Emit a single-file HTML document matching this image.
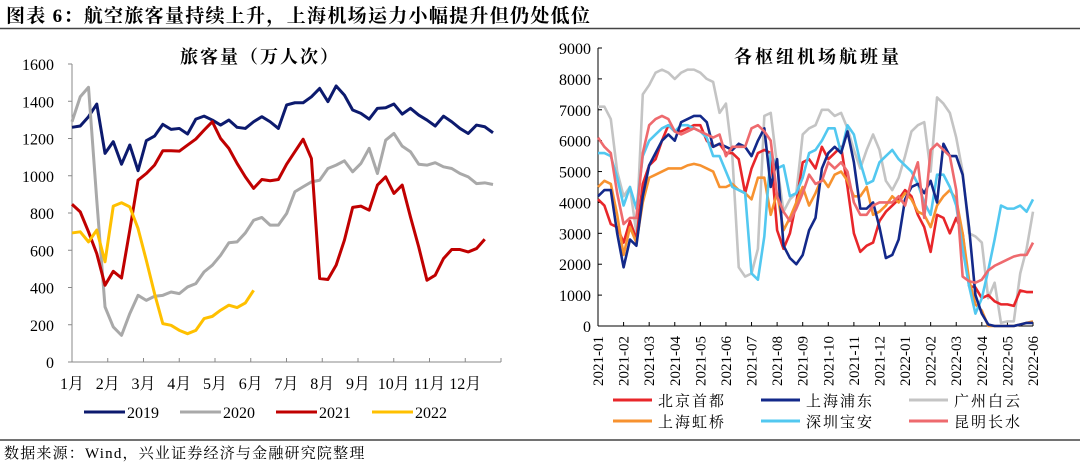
<!DOCTYPE html>
<html><head><meta charset="utf-8"><style>
body{margin:0;background:#fff;width:1080px;height:462px;overflow:hidden}
svg{display:block}
text{font-family:"Liberation Serif","Noto Serif CJK SC",serif;fill:#000}
</style></head><body>
<svg id="s" width="1080" height="462">
<text x="6" y="22" font-size="19" font-weight="bold" letter-spacing="1.3">图表 6：航空旅客量持续上升，上海机场运力小幅提升但仍处低位</text>
<line x1="0" y1="28.5" x2="1080" y2="28.5" stroke="#444" stroke-width="1.5"/>
<line x1="0" y1="440" x2="1080" y2="440" stroke="#444" stroke-width="1.5"/>
<text x="4" y="458" font-size="15" letter-spacing="1.2">数据来源：Wind，兴业证券经济与金融研究院整理</text>
<text x="260" y="63" font-size="18" font-weight="bold" letter-spacing="2" text-anchor="middle">旅客量（万人次）</text>
<text x="818" y="63" font-size="18" font-weight="bold" letter-spacing="3" text-anchor="middle">各枢纽机场航班量</text>
<g id="L"></g>
<g id="R"></g>
</svg>
<script>
const months=["1月","2月","3月","4月","5月","6月","7月","8月","9月","10月","11月","12月"];
const yTicksL=[0,200,400,600,800,1000,1200,1400,1600];
const years=["2019","2020","2021","2022"];
const s2019=[1260,1267,1317,1385,1120,1183,1062,1165,1027,1188,1213,1276,1249,1254,1224,1304,1320,1299,1272,1299,1260,1254,1290,1317,1290,1254,1380,1392,1392,1424,1469,1398,1482,1433,1353,1335,1304,1362,1365,1385,1331,1362,1326,1299,1267,1320,1290,1254,1227,1272,1263,1231];
const s2020=[1290,1424,1475,869,296,188,143,260,358,331,353,358,376,367,403,421,484,520,573,640,645,693,761,776,735,735,797,914,941,967,976,1039,1057,1080,1021,1066,1147,1012,1191,1227,1159,1129,1062,1057,1070,1048,1039,1012,994,958,962,953];
const s2021=[847,806,699,582,412,487,451,708,976,1012,1057,1134,1134,1132,1165,1197,1245,1290,1200,1147,1066,994,932,980,973,980,1062,1129,1196,1093,448,443,520,654,830,837,815,950,994,905,950,779,618,439,466,555,604,604,591,609,659];
const s2022=[693,699,645,708,538,837,855,833,717,546,367,206,197,170,152,170,233,245,278,305,292,317,385];

const monthTicksR=["2021-01","2021-02","2021-03","2021-04","2021-05","2021-06","2021-07","2021-08","2021-09","2021-10","2021-11","2021-12","2022-01","2022-02","2022-03","2022-04","2022-05","2022-06"];
const yTicksR=[0,1000,2000,3000,4000,5000,6000,7000,8000,9000];
const airports=["北京首都","上海浦东","广州白云","上海虹桥","深圳宝安","昆明长水"];
const beijing=[4100,3900,3300,3200,2700,3400,2800,4600,5200,5400,6000,6500,6300,6300,6400,6500,6500,6000,5800,5900,5600,5600,5400,4300,5100,5600,5700,5600,3100,2500,3000,4000,5300,5400,5100,5800,5400,5600,5800,4500,3000,2400,2600,2700,3400,3700,3900,4100,4400,4200,3600,3200,2400,3600,3500,3000,3500,3000,1300,1250,900,1000,800,700,700,650,1150,1100,1100];
const pudong=[4200,4400,4400,3000,1900,2800,2600,4200,5200,5600,6000,6200,6000,6600,6700,6800,6800,6600,5800,5900,5800,5700,5900,5800,5500,6000,6400,4500,5400,2600,2200,2000,2300,3100,3500,5100,5600,5800,5600,6300,5300,3800,3800,4000,3200,2200,2300,2800,4100,4500,4600,4300,4700,4000,5900,5500,5500,4900,3200,1000,400,50,0,0,0,0,50,100,100];
const baiyun=[7100,7100,6700,5000,4200,4500,3000,7500,7800,8200,8300,8200,8000,8200,8300,8300,8200,8000,7900,6900,7200,5500,1900,1600,1700,2500,6800,6900,5200,3700,4100,4300,6200,6400,6500,7000,7000,6800,6900,6400,5700,5100,5700,6200,5700,4700,4400,4800,5500,6300,6500,6600,5000,7400,7200,6900,6100,5000,3000,2900,2700,900,1400,100,150,150,1700,2500,3700];
const hongqiao=[4500,4700,4600,3600,2300,3200,2700,4000,4800,4900,5000,5100,5100,5100,5200,5250,5200,5100,5000,4500,4500,4600,4400,4300,4100,4800,4800,3600,4300,3100,3500,4000,4500,3900,4300,4800,4500,4900,5000,4700,4200,4200,4500,3600,3700,3900,4200,4000,4300,4100,3700,3600,3200,3900,4200,4400,4100,3000,1500,700,500,0,0,0,0,0,50,100,150];
const baoan=[5600,5600,5500,4800,3900,4500,3800,5500,6000,6200,6400,6500,6300,6500,6500,6400,6300,6100,5500,5500,5000,4500,4400,4300,1700,1500,2900,5600,5100,5200,4200,4300,4800,5600,5700,6000,6400,6400,5600,6500,6200,5300,4600,4700,5300,5500,5700,5400,5200,5000,4600,4000,3600,4900,4900,4500,3900,2500,1300,400,900,1800,2800,3900,3800,3800,3900,3700,4100];
const changshui=[6100,5800,5600,4300,3300,3500,3500,5600,6500,6700,6800,6700,6300,6200,6300,6400,6300,6200,6100,6200,5500,5800,5800,5800,6400,6500,6300,6000,4200,3700,3400,3800,4300,4900,4600,4700,5300,5100,5300,5000,4000,3600,3600,3900,4000,4000,4000,4200,3900,4700,5300,3500,5700,5900,5700,5500,4400,1600,1450,1400,1500,1800,1950,2050,2150,2250,2300,2300,2700];

const NS="http://www.w3.org/2000/svg";
function mk(p,tag,at,txt){const e=document.createElementNS(NS,tag);for(const k in at)e.setAttribute(k,at[k]);if(txt!==undefined)e.textContent=txt;p.appendChild(e);return e;}

// LEFT
const L=document.getElementById('L');
const lx0=72,lx1=501,ly0=362,ly1=64;
const lxs=i=>lx0+i*(493-72)/51;
const lys=v=>ly0-(v/1600)*(ly0-ly1);
const lmx=m=>lx0+m*(lx1-lx0)/12;
let a=mk(L,'line',{x1:lx0,y1:ly1,x2:lx0,y2:ly0,stroke:'#888','stroke-width':1});


a=mk(L,'line',{x1:lx0,y1:ly0,x2:lx1,y2:ly0,stroke:'#888','stroke-width':1});


yTicksL.forEach(v=>{
  mk(L,'line',{x1:lx0-4,x2:lx0,y1:lys(v),y2:lys(v),stroke:'#888'});
  const t=mk(L,'text',{x:54,y:lys(v)+6,'font-size':16,'text-anchor':'end'},v);
  
  
});
for(let m=0;m<=12;m++)mk(L,'line',{x1:lmx(m),x2:lmx(m),y1:ly0,y2:ly0-4,stroke:'#888'});
months.forEach((m,i)=>{
  const t=mk(L,'text',{x:lmx(i),y:389,'font-size':16,'text-anchor':'middle'},m);
  
  
});
const lcol=["#0c1a6e","#a9a9a9","#c00000","#ffc000"];
[s2019,s2020,s2021,s2022].forEach((s,k)=>{
  const p=mk(L,'polyline',{points:s.map((v,i)=>lxs(i)+','+lys(v)).join(' '),fill:'none',stroke:lcol[k],'stroke-width':3,'stroke-linejoin':'round'});
  
  
  const lx=84+k*96;
  const ll=mk(L,'line',{x1:lx,x2:lx+41,y1:412,y2:412,stroke:lcol[k],'stroke-width':3});
  
  
  const lt=mk(L,'text',{x:lx+43,y:418,'font-size':16},years[k]);
  
  
});

// RIGHT
const R=document.getElementById('R');
const rx0=598,rx1=1033,ry0=326,ry1=48;
const rxs=i=>rx0+i*(rx1-rx0)/68;
const rys=v=>ry0-(v/9000)*(ry0-ry1);
const rmx=m=>rx0+m*(rx1-rx0)/17;
a=mk(R,'line',{x1:rx0,y1:ry1,x2:rx0,y2:ry0,stroke:'#000','stroke-width':1});


a=mk(R,'line',{x1:rx0,y1:ry0,x2:rx1,y2:ry0,stroke:'#000','stroke-width':1});


yTicksR.forEach(v=>{
  mk(R,'line',{x1:rx0,x2:rx0+4,y1:rys(v),y2:rys(v),stroke:'#000'});
  const t=mk(R,'text',{x:591,y:rys(v)+6,'font-size':16,'text-anchor':'end'},v);
  
  
});
monthTicksR.forEach((m,i)=>{
  mk(R,'line',{x1:rmx(i),x2:rmx(i),y1:ry0,y2:ry0-4,stroke:'#000'});
  const t=mk(R,'text',{x:0,y:0,'font-size':15,'text-anchor':'end',transform:`translate(${rmx(i)+5},${336}) rotate(-90)`},m);
  
  
});
const rcol=["#e8262a","#13298a","#c4c4c4","#f7922f","#52c8f0","#ee6a6e"];
const order=[2,0,3,4,1,5];
const rs=[beijing,pudong,baiyun,hongqiao,baoan,changshui];
order.forEach(k=>{
  const p=mk(R,'polyline',{points:rs[k].map((v,i)=>rxs(i)+','+rys(v)).join(' '),fill:'none',stroke:rcol[k],'stroke-width':2.6,'stroke-linejoin':'round'});
  
  
});
airports.forEach((n,k)=>{
  const col=k%3,row=Math.floor(k/3);
  const lx=613+col*148,ly=400+row*21;
  const ll=mk(R,'line',{x1:lx,x2:lx+39,y1:ly,y2:ly,stroke:rcol[k],'stroke-width':3});
  
  
  const lt=mk(R,'text',{x:lx+45,y:ly+6,'font-size':15,'letter-spacing':'2'},n);
  
  
});
</script>
</body></html>
